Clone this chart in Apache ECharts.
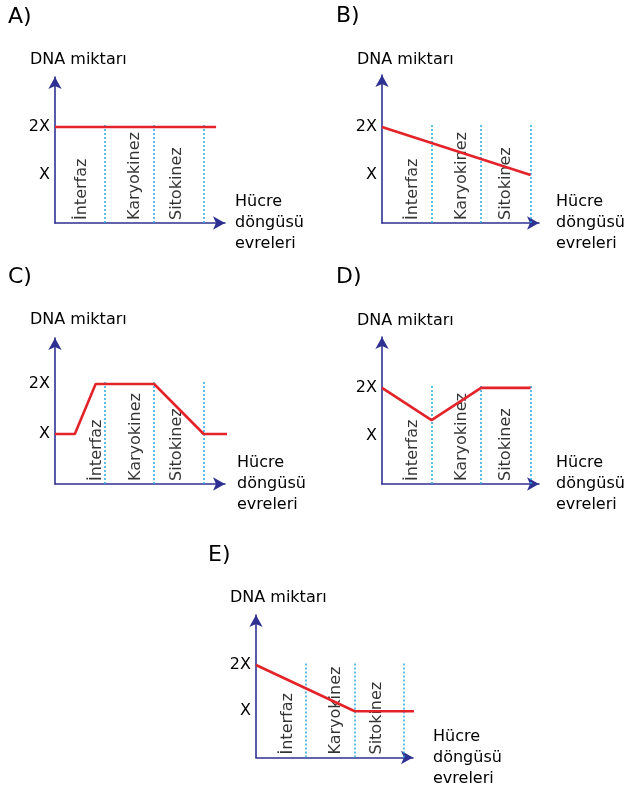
<!DOCTYPE html>
<html>
<head>
<meta charset="utf-8">
<script src="https://cdn.jsdelivr.net/npm/echarts@6/dist/echarts.min.js"></script>
<style>
html,body{margin:0;padding:0;background:#fff;}
#main{width:628px;height:789px;}
</style>
</head>
<body>
<div id="main"></div>
<script>
// ---- data ----
const panelLetters = ['A)', 'B)', 'C)', 'D)', 'E)'];
const phaseNames = ['İnterfaz', 'Karyokinez', 'Sitokinez'];
const phaseBoundaries = [1, 2, 3];
const boundaryTop = 2.05;
const yTickValues = [1, 2];
const yTickLabels = ['X', '2X'];
const yAxisName = 'DNA miktarı';
const xAxisName = 'Hücre\ndöngüsü\nevreleri';

const seriesA = [[0, 2], [3.25, 2]];
const seriesB = [[0, 2], [3, 1]];
const seriesC = [[0, 1], [0.4, 1], [0.82, 2], [2, 2], [3, 1], [3.5, 1]];
const seriesD = [[0, 2], [1, 1.33], [2, 2], [3, 2]];
const seriesE = [[0, 2], [2, 1], [3.2, 1]];
const allSeries = [seriesA, seriesB, seriesC, seriesD, seriesE];

// ---- layout ----
const layouts = [
  {left: 55,  top: 77,  width: 170, height: 146, xMax: 3.43, yMax: 3.04, nameGap: 10, letter: [8, 17],    yName: [30, 60],  labelX: [0.5, 1.57, 2.42]},
  {left: 382, top: 75,  width: 157, height: 148, xMax: 3.17, yMax: 3.08, nameGap: 17, letter: [336, 16],  yName: [357, 60], labelX: [0.59, 1.58, 2.46]},
  {left: 55,  top: 338, width: 170, height: 146, xMax: 3.43, yMax: 2.92, nameGap: 12, letter: [8, 277],   yName: [30, 320], labelX: [0.8, 1.59, 2.42]},
  {left: 382, top: 337, width: 157, height: 147, xMax: 3.17, yMax: 3.06, nameGap: 17, letter: [336, 277], yName: [357, 321], labelX: [0.59, 1.58, 2.46]},
  {left: 256, top: 615, width: 157, height: 148, xMax: 3.18, yMax: 3.08, nameGap: 20, letter: [208, 555], yName: [230, 598], labelX: [0.6, 1.57, 2.41]}
];

const FONT = 'DejaVu Sans';
const TEXT = '#000';
const AXIS_COLOR = '#2e3192';
const RED = '#e3232a';
const DOT = '#29a9e0';

const grid = [], xAxis = [], yAxis = [], series = [], graphic = [];

layouts.forEach((L, i) => {
  grid.push({left: L.left, top: L.top, width: L.width, height: L.height});
  const axisLine = {
    show: true,
    symbol: ['none', 'arrow'],
    symbolSize: [10, 12],
    lineStyle: {color: AXIS_COLOR, width: 1.6}
  };
  xAxis.push({
    type: 'value', gridIndex: i, min: 0, max: L.xMax,
    axisLine: axisLine, axisTick: {show: false}, splitLine: {show: false},
    axisLabel: {show: false},
    name: xAxisName, nameLocation: 'end', nameGap: L.nameGap,
    nameTextStyle: {fontFamily: FONT, fontSize: 16, color: TEXT, lineHeight: 21, align: 'left', verticalAlign: 'middle'}
  });
  yAxis.push({
    type: 'value', gridIndex: i, min: 0, max: L.yMax, interval: 1,
    axisLine: axisLine, axisTick: {show: false}, splitLine: {show: false},
    axisLabel: {
      show: true, margin: 5, fontFamily: FONT, fontSize: 16, color: TEXT,
      formatter: v => { const k = yTickValues.indexOf(v); return k >= 0 ? yTickLabels[k] : ''; }
    }
  });
  // phase name labels
  series.push({
    type: 'scatter', xAxisIndex: i, yAxisIndex: i, symbolSize: 0, z: 1,
    silent: true,
    data: phaseNames.map((n, k) => ({name: n, value: [L.labelX[k], 0]})),
    label: {
      show: true, formatter: '{b}', position: [0, 0], rotate: 90,
      align: 'left', verticalAlign: 'middle', offset: [3, 2],
      fontFamily: FONT, fontSize: 16, color: TEXT
    }
  });
  // red line with dotted phase boundaries
  series.push({
    type: 'line', xAxisIndex: i, yAxisIndex: i, data: allSeries[i],
    symbol: 'none', clip: false, z: 5, silent: true,
    lineStyle: {color: RED, width: 2.6},
    markLine: {
      silent: true, symbol: ['none', 'none'], z: 2,
      label: {show: false},
      lineStyle: {color: DOT, type: [2, 2], width: 1.5},
      data: phaseBoundaries.map(b => [{coord: [b, 0]}, {coord: [b, boundaryTop]}])
    }
  });
  graphic.push({
    type: 'text', x: L.letter[0], y: L.letter[1],
    style: {text: panelLetters[i], fontFamily: FONT, fontSize: 22, fill: TEXT, verticalAlign: 'middle', align: 'left'}
  });
  graphic.push({
    type: 'text', x: L.yName[0], y: L.yName[1],
    style: {text: yAxisName, fontFamily: FONT, fontSize: 16, fill: TEXT, verticalAlign: 'middle', align: 'left'}
  });
});

const chart = echarts.init(document.getElementById('main'), null, {renderer: 'canvas'});
chart.setOption({
  animation: false,
  backgroundColor: '#fff',
  grid, xAxis, yAxis, series, graphic
});
</script>
</body>
</html>
